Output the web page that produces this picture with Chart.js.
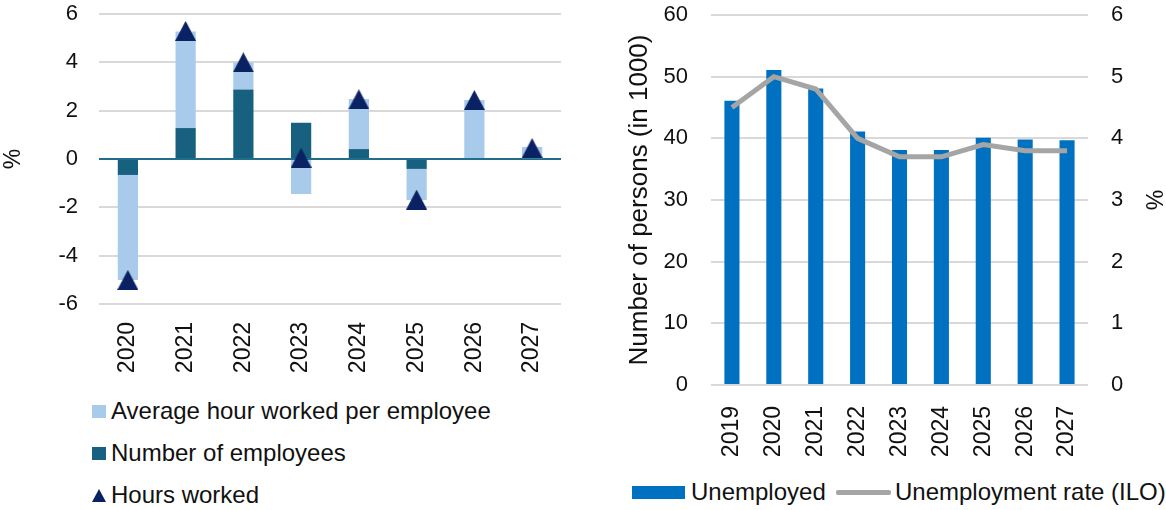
<!DOCTYPE html>
<html>
<head>
<meta charset="utf-8">
<script src="https://cdn.jsdelivr.net/npm/chart.js@4/dist/chart.umd.min.js"></script>
<style>
  body { margin: 0; background: #fff; width: 1166px; height: 510px; position: relative; overflow: hidden;
         font-family: "Liberation Sans", Arial, sans-serif; color: #111; }
  #hours-wrap { position: absolute; left: 0; top: 0; }
  #unemp-wrap { position: absolute; left: 600px; top: 0; }
  .legend-item { position: absolute; display: flex; align-items: center; font-size: 24px; line-height: 1; white-space: nowrap; }
  .sq { display: inline-block; width: 14px; height: 13px; margin-right: 5px; }
  .tri { display: inline-block; width: 0; height: 0; border-left: 7px solid transparent; border-right: 7px solid transparent;
         border-bottom: 13px solid #0a2263; margin-right: 5px; }
  .wide { display: inline-block; width: 53px; height: 13px; background: #0070c0; margin-right: 6px; }
  .line { display: inline-block; width: 55px; height: 5px; background: #a5a5a5; border-radius: 2px; margin-right: 4px; }
</style>
</head>
<body>
<div id="hours-wrap"><canvas id="hoursChart" width="580" height="385"></canvas></div>
<div id="unemp-wrap"><canvas id="unempChart" width="566" height="470"></canvas></div>

<div class="legend-item" style="left:92px; top:399px;"><span class="sq" style="background:#a9cbeb"></span>Average hour worked per employee</div>
<div class="legend-item" style="left:92px; top:441px;"><span class="sq" style="background:#17607f"></span>Number of employees</div>
<div class="legend-item" style="left:92px; top:483px;"><span class="tri"></span>Hours worked</div>

<div class="legend-item" style="left:632px; top:480px;"><span class="wide"></span>Unemployed</div>
<div class="legend-item" style="left:836px; top:480px;"><span class="line"></span>Unemployment rate (ILO)</div>

<script>
// hours worked, split into its two components (% change)
const hoursYears = ['2020', '2021', '2022', '2023', '2024', '2025', '2026', '2027'];
const avgHours = [-4.35, 4.0, 1.12, -1.45, 2.07, -1.29, 2.44, 0.48];
const employees = [-0.66, 1.28, 2.88, 1.50, 0.41, -0.41, 0.0, 0.02];
const hoursWorked = [-5.0, 5.3, 4.0, 0.05, 2.47, -1.68, 2.44, 0.45];

// unemployment
const unempYears = ['2019', '2020', '2021', '2022', '2023', '2024', '2025', '2026', '2027'];
const unemployed = [46.1, 51.1, 48.1, 41.1, 38.1, 38.1, 40.1, 39.8, 39.7];
const unempRate = [4.5, 5.0, 4.8, 4.0, 3.7, 3.7, 3.9, 3.8, 3.8];

const FONT = '"Liberation Sans", Arial, sans-serif';
const TEXT = '#111';
const GRID = '#d9d9d9';

Chart.defaults.animation = false;
Chart.defaults.font.family = FONT;
Chart.defaults.color = TEXT;

// y axes: fixed width, and no extra label padding above/below the plot
const fixWidth = w => s => { s.width = w; s.paddingTop = 0; s.paddingBottom = 0; };

// triangle marker used for the hours worked points
const tri = document.createElement('canvas');
tri.width = 21; tri.height = 20;
const tctx = tri.getContext('2d');
tctx.fillStyle = '#0a2263';
tctx.beginPath();
tctx.moveTo(10.5, 0);
tctx.lineTo(21, 20);
tctx.lineTo(0, 20);
tctx.closePath();
tctx.fill();

new Chart(document.getElementById('hoursChart'), {
    data: {
        labels: hoursYears,
        datasets: [
            { type: 'bar', label: 'Number of employees', data: employees, backgroundColor: '#17607f', stack: 'parts', order: 1 },
            { type: 'bar', label: 'Average hour worked per employee', data: avgHours, backgroundColor: '#a9cbeb', stack: 'parts', order: 1 },
            { type: 'line', label: 'Hours worked', data: hoursWorked, stack: 'hours', showLine: false,
              pointStyle: tri, pointRadius: 10, order: 0 }
        ]
    },
    options: {
        responsive: false,
        layout: { padding: { top: 14, right: 19, left: 0, bottom: 0 } },
        datasets: { bar: { categoryPercentage: 1, barPercentage: 0.35 } },
        plugins: { legend: { display: false }, tooltip: { enabled: false } },
        scales: {
            x: {
                stacked: true,
                grid: { display: false },
                border: { display: false },
                ticks: { font: { size: 23 }, minRotation: 90, maxRotation: 90, padding: 10 },
                afterFit: s => { s.height = 81; }
            },
            y: {
                stacked: true,
                min: -6, max: 6,
                ticks: { stepSize: 2, font: { size: 22 }, padding: 21 },
                grid: {
                    drawTicks: false,
                    color: c => c.tick && c.tick.value === 0 ? '#1f6f8b' : GRID,
                    lineWidth: 2
                },
                border: { display: false },
                title: { display: true, text: '%', font: { size: 23 }, padding: 0 },
                afterFit: fixWidth(99)
            }
        }
    }
});

new Chart(document.getElementById('unempChart'), {
    data: {
        labels: unempYears,
        datasets: [
            { type: 'line', label: 'Unemployment rate (ILO)', data: unempRate, yAxisID: 'y1',
              borderColor: '#a5a5a5', borderWidth: 5, pointRadius: 0, tension: 0, order: 0 },
            { type: 'bar', label: 'Unemployed', data: unemployed, yAxisID: 'y',
              backgroundColor: '#0070c0', categoryPercentage: 1, barPercentage: 0.36, order: 1 }
        ]
    },
    options: {
        responsive: false,
        layout: { padding: { top: 15, right: 0, left: 24, bottom: 0 } },
        plugins: { legend: { display: false }, tooltip: { enabled: false } },
        scales: {
            x: {
                offset: true,
                grid: { display: false },
                border: { display: false },
                ticks: { font: { size: 23 }, minRotation: 90, maxRotation: 90, padding: 13 },
                afterFit: s => { s.height = 85; }
            },
            y: {
                position: 'left',
                min: 0, max: 60,
                ticks: { stepSize: 10, font: { size: 22 }, padding: 23 },
                grid: { drawTicks: false, color: GRID, lineWidth: 2 },
                border: { display: false },
                title: { display: true, text: 'Number of persons (in 1000)', font: { size: 26 }, padding: 0 },
                afterFit: fixWidth(87)
            },
            y1: {
                position: 'right',
                min: 0, max: 6,
                ticks: { stepSize: 1, font: { size: 22 }, padding: 23 },
                grid: { drawOnChartArea: false, drawTicks: false },
                border: { display: false },
                title: { display: true, text: '%', font: { size: 23 }, padding: 0 },
                afterFit: fixWidth(78)
            }
        }
    }
});
</script>
</body>
</html>
